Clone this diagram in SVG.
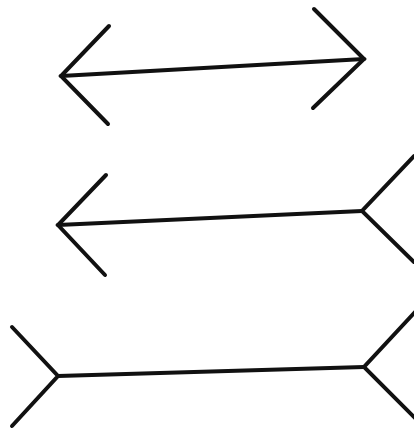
<svg xmlns="http://www.w3.org/2000/svg" width="414" height="432" viewBox="0 0 414 432">
<style>
.s{fill:none;stroke:#111;stroke-width:4;stroke-linecap:round;stroke-linejoin:miter}
</style>
<rect width="414" height="432" fill="#fff"/>
<g id="figure1" class="s">
<polyline points="109,26 61,76 108,124"/>
<polyline points="314,9 364,59 313,108"/>
<line x1="61" y1="76" x2="364" y2="59"/>
</g>
<g id="figure2" class="s">
<polyline points="106,175 58,225 105,275"/>
<polyline points="414,156 362,211 414,262"/>
<line x1="58" y1="225" x2="362" y2="211"/>
</g>
<g id="figure3" class="s">
<polyline points="12,327 58,376 12,426"/>
<polyline points="416,311 364,367 416,419"/>
<line x1="58" y1="376" x2="364" y2="367"/>
</g>
</svg>
